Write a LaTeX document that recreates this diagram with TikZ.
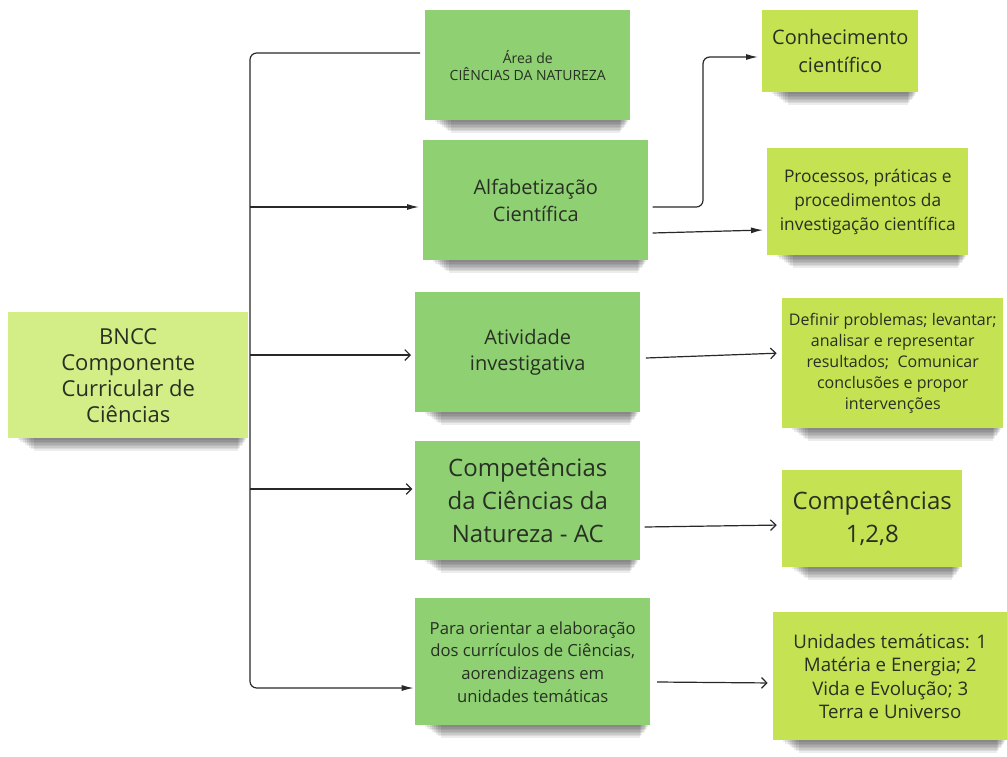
\documentclass[tikz,border=0pt]{standalone}
\usepackage{fontspec}
\setmainfont{Open Sans}
\usetikzlibrary{arrows.meta}
\definecolor{gfill}{RGB}{142,208,114}
\definecolor{bfill}{RGB}{212,238,135}
\definecolor{yfill}{RGB}{196,226,82}
\definecolor{txtc}{RGB}{40,48,36}
\definecolor{lnc}{RGB}{40,40,40}
\newcommand{\fs}[2]{\fontsize{#1}{#2}\selectfont}
\pgfdeclarelayer{bg}
\pgfsetlayers{bg,main}
\newcommand{\nshadow}[1]{%
  \begin{pgfonlayer}{bg}
  \foreach \i in {1,...,8}{
    \fill[black,opacity=0.075] ([xshift={(8+2.2*\i)*0.75pt}, yshift=3pt]#1.south west) rectangle ([xshift={-(1+1.2*\i)*0.75pt}, yshift={-(1.5*\i)*0.75pt}]#1.south east);
  }
  \end{pgfonlayer}}
\begin{document}
\begin{tikzpicture}[x=0.75pt,y=-0.75pt,
  note/.style={anchor=north west, inner sep=0pt, align=center, text=txtc},
  gnote/.style={note, fill=gfill},
  bnote/.style={note, fill=bfill},
  ynote/.style={note, fill=yfill},
  sz/.style 2 args={minimum width={#1*0.75pt}, minimum height={#2*0.75pt}},
  conn/.style={draw=lnc, line width=0.9pt},
  solidtip/.style={conn, -{Latex[length=9pt,width=4.5pt]}, shorten >=1pt},
  opentip/.style={conn, -{Straight Barb[length=4pt,width=8pt]}, shorten >=1pt}]
\useasboundingbox (0,0) rectangle (1007,757);
\begin{pgfonlayer}{bg}
\fill[white] (0,0) rectangle (1007,757);
\end{pgfonlayer}

\node[bnote, sz={240}{126}, font=\fs{16.5}{19.5}] (bncc) at (8,312) {BNCC\\Componente\\Curricular de\\Ciências};
\node[gnote, sz={205}{110}, font=\fs{10.5}{13}] (area) at (425,10) {Área de\\CIÊNCIAS DA NATUREZA};
\node[gnote, sz={225}{120}, font=\fs{15}{20}] (alfa) at (423,140) {Alfabetização\\Científica};
\node[ynote, sz={156}{82}, font=\fs{15}{21}] (conh) at (762,10) {Conhecimento\\científico};
\node[ynote, sz={201}{107}, font=\fs{13}{18}] (proc) at (767,148) {Processos, práticas e\\procedimentos da\\investigação científica};
\node[gnote, sz={225}{120}, font=\fs{15}{20}] (ativ) at (415,292) {Atividade\\investigativa};
\node[ynote, sz={221}{130}, font=\fs{12}{15.75}] (defi) at (782,298) {Definir problemas; levantar;\\analisar e representar\\resultados;\ \ Comunicar\\conclusões e propor\\intervenções};
\node[gnote, sz={225}{119}, font=\fs{18}{24.75}] (compa) at (415,441) {Competências\\da Ciências da\\Natureza - AC};
\node[ynote, sz={180}{97}, font=\fs{18}{24.75}] (comp) at (782,470) {Competências\\1,2,8};
\node[gnote, sz={235}{127}, font=\fs{12.5}{17}] (para) at (415,598) {Para orientar a elaboração\\dos currículos de Ciências,\\aorendizagens em\\unidades temáticas};
\node[ynote, sz={234}{128}, font=\fs{14}{17.6}] (unid) at (773,612) {Unidades temáticas: 1\\Matéria e Energia; 2\\Vida e Evolução; 3\\Terra e Universo};

\foreach \n in {bncc,area,alfa,conh,proc,ativ,defi,compa,comp,para,unid}{\nshadow{\n}}

\coordinate (ttop) at (250,53);
\coordinate (tbot) at (250,688);
\coordinate (t2) at (250,207);
\coordinate (t3) at (250,355);
\coordinate (t4) at (250,489);
\coordinate (kbend) at (703,57);

\draw[solidtip, rounded corners=5pt] ([xshift=-3.75pt]area.west |- ttop) -- (ttop) -- (tbot) -- (para.west |- tbot);
\draw[solidtip, shorten >=3pt] (t2) -- (alfa.west |- t2);
\draw[opentip, shorten >=3pt] (t3) -- (ativ.west |- t3);
\draw[opentip, shorten >=2pt] (t4) -- (compa.west |- t4);

\draw[solidtip, rounded corners=5pt, shorten >=3pt] ([xshift=3pt]alfa.east |- 0,207) -| (kbend) -- (conh.west |- kbend);
\draw[solidtip] ([xshift=3pt]alfa.east |- 0,233) -- ([xshift=-2pt]proc.west |- 0,230);
\draw[opentip, shorten >=4pt] ([xshift=4pt]ativ.east |- 0,358) -- (defi.west |- 0,353);
\draw[opentip, shorten >=4pt] ([xshift=3pt]compa.east |- 0,527) -- (comp.west |- 0,525);
\draw[opentip, shorten >=4pt] ([xshift=5pt]para.east |- 0,682) -- (unid.west |- 0,683);
\end{tikzpicture}
\end{document}
